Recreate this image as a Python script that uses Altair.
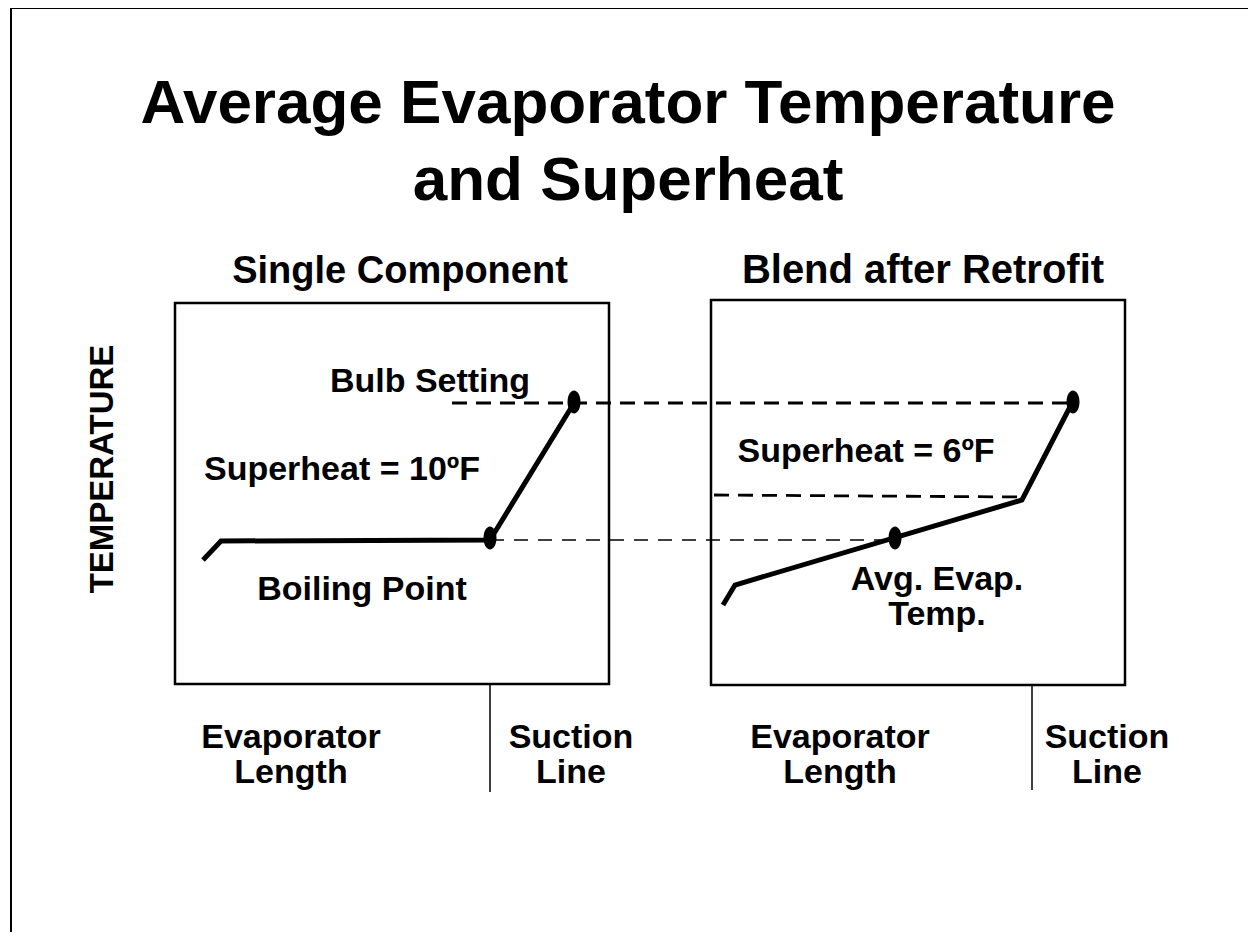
import altair as alt
import pandas as pd

FONT = "Liberation Sans, Arial, Helvetica, sans-serif"

# ---- diagram geometry (reference pixel units) ----
frame_x = [11, 11, 1256]
frame_y = [940, 8, 8]

box_x1 = [175, 711]
box_x2 = [609, 1125]
box_y1 = [303, 300]
box_y2 = [684, 685]

sep_x = [490, 1032]
sep_y1 = [684, 685]
sep_y2 = [792, 790]

curve_id = ["single", "single", "single", "single", "blend", "blend", "blend", "blend"]
curve_x = [203, 221, 490, 574, 723, 735, 1022, 1072]
curve_y = [560, 541, 540, 403, 605, 585, 500, 403]

thick_dash_id = ["bulb", "bulb", "mid", "mid"]
thick_dash_x = [452, 1073, 714, 1022]
thick_dash_y = [403, 403, 495, 497]

thin_dash_x = [490, 895]
thin_dash_y = [540, 540]

dot_x = [490, 574, 895, 1073]
dot_y = [538, 402, 538, 402]

title_text = ["Average Evaporator Temperature", "and Superheat"]
title_x = [628, 628]
title_y = [123, 200]

sub_text = ["Single Component", "Blend after Retrofit"]
sub_x = [400, 923]
sub_y = [283, 283]
sub_size = [38, 40]

lab_text = ["Bulb Setting", "Superheat = 10ºF", "Boiling Point", "Superheat = 6ºF",
            "Avg. Evap.\nTemp."]
lab_x = [430, 342, 362, 866, 937]
lab_y = [392, 480, 600, 462, 590]

foot_text = ["Evaporator\nLength", "Suction\nLine", "Evaporator\nLength", "Suction\nLine"]
foot_x = [291, 571, 840, 1107]
foot_y = [748, 748, 748, 748]

ylab_text = ["TEMPERATURE"]
ylab_x = [103]
ylab_y = [469]

# ---- tables ----
frame_df = pd.DataFrame({"x": frame_x, "y": frame_y, "o": range(len(frame_x))})
box_df = pd.DataFrame({"x": box_x1, "x2": box_x2, "y": box_y1, "y2": box_y2})
sep_df = pd.DataFrame({"x": sep_x, "y": sep_y1, "y2": sep_y2})
curve_df = pd.DataFrame({"g": curve_id, "x": curve_x, "y": curve_y, "o": range(len(curve_x))})
tdash_df = pd.DataFrame({"g": thick_dash_id, "x": thick_dash_x, "y": thick_dash_y, "o": range(4)})
ndash_df = pd.DataFrame({"x": thin_dash_x, "y": thin_dash_y, "o": range(2)})
dot_df = pd.DataFrame({"x": dot_x, "y": dot_y})
title_df = pd.DataFrame({"t": title_text, "x": title_x, "y": title_y})
sub_df = pd.DataFrame({"t": sub_text, "x": sub_x, "y": sub_y, "s": sub_size})
lab_df = pd.DataFrame({"t": lab_text, "x": lab_x, "y": lab_y})
foot_df = pd.DataFrame({"t": foot_text, "x": foot_x, "y": foot_y})
ylab_df = pd.DataFrame({"t": ylab_text, "x": ylab_x, "y": ylab_y})

W, H = 1240, 924
xs = alt.Scale(domain=[8, 8 + W], nice=False, zero=False)
ys = alt.Scale(domain=[8, 8 + H], nice=False, zero=False, reverse=True)


def X(f="x"):
    return alt.X(f"{f}:Q", scale=xs, axis=None)


def Y(f="y"):
    return alt.Y(f"{f}:Q", scale=ys, axis=None)


frame = alt.Chart(frame_df).mark_line(color="black", strokeWidth=2).encode(
    x=X(), y=Y(), order="o:Q")

boxes = alt.Chart(box_df).mark_rect(fillOpacity=0, stroke="black", strokeWidth=2.5).encode(
    x=X(), x2="x2:Q", y=Y(), y2="y2:Q")

seps = alt.Chart(sep_df).mark_rule(color="black", strokeWidth=1.5).encode(
    x=X(), y=Y(), y2="y2:Q")

curves = alt.Chart(curve_df).mark_line(color="black", strokeWidth=5, strokeJoin="miter").encode(
    x=X(), y=Y(), detail="g:N", order="o:Q")

tdash = alt.Chart(tdash_df).mark_line(color="black", strokeWidth=2.8, strokeDash=[15, 9]).encode(
    x=X(), y=Y(), detail="g:N", order="o:Q")

ndash = alt.Chart(ndash_df).mark_line(color="black", strokeWidth=1.6, strokeDash=[14, 10]).encode(
    x=X(), y=Y(), order="o:Q")

ellipse = "M-0.565,0A0.565,1,0,1,0,0.565,0A0.565,1,0,1,0,-0.565,0Z"
dots = alt.Chart(dot_df).mark_point(shape=ellipse, filled=True, color="black", opacity=1, size=529).encode(
    x=X(), y=Y())

titles = alt.Chart(title_df).mark_text(font=FONT, fontWeight="bold", fontSize=62, color="black",
                                       align="center", baseline="alphabetic").encode(
    x=X(), y=Y(), text="t:N")

subs = alt.Chart(sub_df).mark_text(font=FONT, fontWeight="bold", color="black",
                                   align="center", baseline="alphabetic").encode(
    x=X(), y=Y(), text="t:N", size=alt.Size("s:Q", scale=None, legend=None))

labs = alt.Chart(lab_df).mark_text(font=FONT, fontWeight="bold", fontSize=34, color="black",
                                   align="center", baseline="alphabetic",
                                   lineBreak="\n", lineHeight=35).encode(
    x=X(), y=Y(), text="t:N")

foots = alt.Chart(foot_df).mark_text(font=FONT, fontWeight="bold", fontSize=34, color="black",
                                     align="center", baseline="alphabetic",
                                     lineBreak="\n", lineHeight=35).encode(
    x=X(), y=Y(), text="t:N")

ylab = alt.Chart(ylab_df).mark_text(font=FONT, fontWeight="bold", fontSize=33, color="black",
                                    align="center", baseline="middle", angle=270).encode(
    x=X(), y=Y(), text="t:N")

chart = alt.layer(frame, boxes, seps, tdash, ndash, curves, dots, titles, subs, labs, foots, ylab).properties(
    width=W, height=H, padding=0, autosize=alt.AutoSizeParams(type="none"),
    background="white",
).configure_view(strokeWidth=0)

chart.save("out.html", embed_options={"renderer": "svg", "actions": False})
